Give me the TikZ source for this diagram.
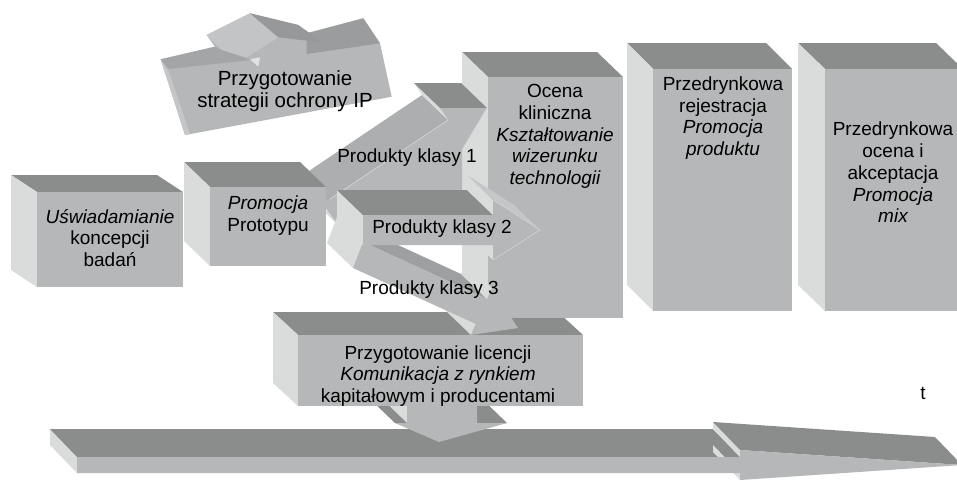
\documentclass[tikz,border=0pt]{standalone}
\usepackage{fontspec}
\setmainfont{Liberation Sans}
\definecolor{topc}{RGB}{139,141,141}
\definecolor{frontc}{RGB}{181,183,184}
\definecolor{sidec}{RGB}{218,219,219}
\definecolor{midc}{RGB}{172,174,175}
\definecolor{darkmid}{RGB}{157,159,160}
\definecolor{lightmid}{RGB}{196,198,199}
\tikzset{
  facetop/.style={fill=topc},
  facefront/.style={fill=frontc},
  faceside/.style={fill=sidec},
  lbl/.style={font=\fontsize{19}{21.7}\selectfont, align=center, inner sep=0pt, text=black},
  lblbig/.style={font=\fontsize{20.5}{22.5}\selectfont, align=center, inner sep=0pt, text=black}
}
% box: x1 y1 x2 y2 dx dy
\newcommand{\boxthree}[6]{%
  \fill[facetop] (#1,#2) -- ({#1-#5},{#2-#6}) -- ({#3-#5},{#2-#6}) -- (#3,#2) -- cycle;
  \fill[faceside] (#1,#2) -- ({#1-#5},{#2-#6}) -- ({#1-#5},{#4-#6}) -- (#1,#4) -- cycle;
  \fill[facefront] (#1,#2) rectangle (#3,#4);
}
\begin{document}
\begin{tikzpicture}[x=1pt,y=-1pt]
\clip (0,0) rectangle (957,480);
\fill[white] (0,0) rectangle (957,480);

% ---- IP shape ----
\fill[facefront] (160.7,59.3) -- (215,46.7) -- (206.7,35) -- (250,13.3) -- (298.3,25) -- (306.7,33.3)
  -- (363.3,18.3) -- (380,43.3) -- (391.7,96.7) -- (185,135) -- cycle;
\fill[fill={rgb,255:red,196;green,198;blue,199}] (160.7,59.3) -- (168,69) -- (190,134) -- (185,135) -- cycle;
\fill[fill={rgb,255:red,163;green,165;blue,166}] (160.7,59.3) -- (215,46.7) -- (221.7,50) -- (251.7,60) -- (168,69) -- cycle;
\fill[fill={rgb,255:red,154;green,156;blue,157}] (306.7,33.3) -- (363.3,18.3) -- (380,43.3) -- (306.7,54) -- cycle;
\fill[fill={rgb,255:red,194;green,196;blue,197}] (206.7,35) -- (250,13.3) -- (278.3,37.3) -- (246.7,57.3) -- (221.7,50) -- cycle;
\fill[fill={rgb,255:red,150;green,152;blue,153}] (250,13.3) -- (298.3,25) -- (323.3,42.7) -- (278.3,37.3) -- cycle;
\fill[fill={rgb,255:red,225;green,226;blue,226}] (250,59.3) -- (260,57.3) -- (258.3,66.7) -- cycle;

% ---- Box 1 ----
\boxthree{37}{192}{183}{287}{26}{17}

% ---- timeline arrow ----
\fill[faceside] (77,457) -- (77,473) -- (50,445) -- (50,429) -- cycle;
\fill[facetop] (77,457) -- (740,457) -- (713,429) -- (50,429) -- cycle;
\fill[faceside] (740,450) -- (740,457) -- (713,429) -- (713,422) -- cycle;
\fill[facetop] (740,450) -- (962,465) -- (935,437) -- (713,422) -- cycle;
\fill[faceside] (740,473) -- (740,480) -- (713,452) -- (713,445) -- cycle;
\fill[facefront] (77,457) -- (740,457) -- (740,450) -- (962,465) -- (740,480) -- (740,473) -- (77,473) -- cycle;

% ---- down arrow under licence box ----
\fill[faceside] (407,395) -- (407,423) -- (381,398) -- (381,370) -- cycle;
\fill[facetop] (395,423) -- (407,423) -- (381,398) -- (369,398) -- cycle;
\fill[facetop] (477,423) -- (507,423) -- (481,398) -- (451,398) -- cycle;
\fill[facefront] (407,395) -- (407,423) -- (395,423) -- (439,442) -- (507,423) -- (477,423) -- (477,395) -- cycle;

% ---- licence box ----
\boxthree{298}{335}{583}{406}{25}{23}

% ---- right boxes ----
\boxthree{488}{77}{623}{318}{26}{25}
\boxthree{653}{69}{792}{311}{26}{26}
\boxthree{825}{69}{963}{311}{27}{26}

% ---- arrow 1 ----
\fill[faceside] (323,204) -- (337,224) -- (311,199) -- (297,179) -- cycle;
\fill[midc] (323,204) -- (448,120) -- (422,95) -- (297,179) -- cycle;
\fill[faceside] (448,120) -- (440,108) -- (414,83) -- (422,95) -- cycle;
\fill[facetop] (440,108) -- (487,108) -- (461,83) -- (414,83) -- cycle;
\fill[facefront] (323,204) -- (448,120) -- (440,108) -- (487,108) -- (462,150) -- (462,200) -- (337,224) -- cycle;
\draw[white!45!frontc, line width=0.6pt] (330,199) -- (448,120);
\draw[white!45!frontc, line width=0.6pt] (487,108) -- (462,150);

% ---- box 2 ----
\boxthree{210}{187}{326}{266}{26}{25}

% ---- arrow 3 ----
\fill[faceside] (353,268) -- (363,242) -- (337,217) -- (327,243) -- cycle;
\fill[darkmid] (363,242) -- (487,299) -- (461,274) -- (337,217) -- cycle;
\fill[faceside] (487,299) -- (492,288) -- (466,263) -- (461,274) -- cycle;
\fill[faceside] (471,335) -- (476,324) -- (450,299) -- (445,310) -- cycle;
\fill[facefront] (363,242) -- (487,299) -- (492,288) -- (518,328) -- (471,335) -- (476,324) -- (353,268) -- cycle;

% ---- arrow 2 ----
\fill[faceside] (363,215) -- (363,245) -- (337,220) -- (337,190) -- cycle;
\fill[facetop] (363,215) -- (493,215) -- (467,190) -- (337,190) -- cycle;
\fill[faceside] (493,215) -- (493,200) -- (467,175) -- (467,190) -- cycle;
\fill[lightmid] (493,200) -- (540,230) -- (514,205) -- (467,175) -- cycle;
\fill[faceside] (493,245) -- (493,260) -- (467,235) -- (467,220) -- cycle;
\fill[facefront] (363,215) -- (493,215) -- (493,200) -- (540,230) -- (493,260) -- (493,245) -- (363,245) -- cycle;
\draw[white!35!frontc, line width=0.7pt] (493,200) -- (540,230) -- (493,260);

% ---- labels ----
\node[lblbig] (ip) at (285,91) {Przygotowanie\\strategii ochrony IP};
\node[lbl] (b1) at (110,238) {\itshape Uświadamianie\\koncepcji\\badań};
\node[lbl] (b2) at (268,215.5) {\itshape Promocja\\Prototypu};
\node[lbl] (ocena) at (555,136.5) {Ocena\\kliniczna\\\itshape Kształtowanie\\\itshape wizerunku\\\itshape technologii};
\node[lbl] (rej) at (723,118) {Przedrynkowa\\rejestracja\\\itshape Promocja\\\itshape produktu};
\node[lbl] (akc) at (893,172.5) {Przedrynkowa\\ocena i\\akceptacja\\\itshape Promocja\\\itshape mix};
\node[lbl] (k1) at (407,158) {Produkty klasy 1};
\node[lbl] (k2) at (442,229) {Produkty klasy 2};
\node[lbl] (k3) at (429,290) {Produkty klasy 3};
\node[lbl] (lic) at (438,376) {Przygotowanie licencji\\\itshape Komunikacja z rynkiem\\kapitałowym i producentami};
\node[lbl] (t) at (923,393) {t};
\end{tikzpicture}
\end{document}
